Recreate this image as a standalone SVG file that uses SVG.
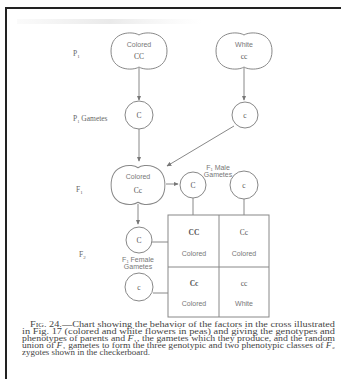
<svg xmlns="http://www.w3.org/2000/svg" width="341" height="379" viewBox="0 0 341 379">
<defs>
<marker id="ah" viewBox="0 0 8 8" refX="7" refY="4" markerWidth="5" markerHeight="5" orient="auto" markerUnits="strokeWidth">
<path d="M0,0.5 L8,4 L0,7.5 Z" fill="#777"/>
</marker>
<path id="blob" d="M0,-16 C-6,-20 -28,-20 -28,0 C-28,20 -6,20 0,16 C6,20 28,20 28,0 C28,-20 6,-20 0,-16 Z"/>
<linearGradient id="smudge" x1="0" y1="0" x2="1" y2="0">
<stop offset="0" stop-color="#e8e8e8" stop-opacity="0.2"/>
<stop offset="0.5" stop-color="#e4e4e4" stop-opacity="0.8"/>
<stop offset="1" stop-color="#eee" stop-opacity="0"/>
</linearGradient>
</defs>
<style>
.shape{fill:#fff;stroke:#888;stroke-width:1}
.conn{stroke:#888;stroke-width:1;fill:none}
.lbl{font-family:"Liberation Sans",Arial,sans-serif;font-size:7px;fill:#777;text-anchor:middle}
.gl{font-family:"Liberation Serif","Times New Roman",serif;font-size:7.5px;fill:#555;text-anchor:middle}
.side{font-family:"Liberation Serif","Times New Roman",serif;font-size:7.5px;fill:#666}
.cap{font-family:"Liberation Serif","DejaVu Serif","Times New Roman",serif;font-size:7.2px;fill:#444}
</style>
<rect x="0" y="0" width="341" height="379" fill="#fff"/>
<rect x="6" y="8" width="340" height="376" fill="none" stroke="#222" stroke-width="2"/>
<rect x="17" y="19" width="185" height="5" fill="url(#smudge)"/>

<g id="connectors">
<line class="conn" x1="139" y1="68" x2="139" y2="100" marker-end="url(#ah)"/>
<line class="conn" x1="244" y1="68" x2="244" y2="100" marker-end="url(#ah)"/>
<line class="conn" x1="139" y1="129" x2="139" y2="161" marker-end="url(#ah)"/>
<line class="conn" x1="234" y1="126" x2="167" y2="166" marker-end="url(#ah)"/>
<line class="conn" x1="166" y1="184" x2="178" y2="184" marker-end="url(#ah)"/>
<line class="conn" x1="138" y1="204" x2="138" y2="224" marker-end="url(#ah)"/>
<line class="conn" x1="193" y1="198" x2="193" y2="215"/>
<line class="conn" x1="244" y1="199" x2="244" y2="215"/>
<line class="conn" x1="152" y1="242" x2="168" y2="242"/>
<line class="conn" x1="153" y1="293" x2="168" y2="293"/>
</g>

<g id="labels">
<text class="side" x="73" y="56">P<tspan font-size="5" dy="1.5">1</tspan></text>
<text class="side" x="73" y="121" font-size="6.5">P<tspan font-size="4.5" dy="1.5">1</tspan><tspan dy="-1.5"> Gametes</tspan></text>
<text class="side" x="76" y="192">F<tspan font-size="5" dy="1.5">1</tspan></text>
<text class="side" x="79" y="257">F<tspan font-size="5" dy="1.5">2</tspan></text>
</g>

<g id="p1-colored">
<use href="#blob" class="shape" transform="translate(139,51)"/>
<text class="lbl" x="139" y="47">Colored</text>
<text class="gl" x="139" y="59">CC</text>
</g>
<g id="p1-white">
<use href="#blob" class="shape" transform="translate(244,51)"/>
<text class="lbl" x="244" y="47">White</text>
<text class="gl" x="244" y="59">cc</text>
</g>
<g id="p1-gamete-C">
<circle class="shape" cx="139" cy="115" r="14"/>
<text class="gl" x="139" y="118">C</text>
</g>
<g id="p1-gamete-c">
<circle class="shape" cx="245" cy="115" r="13"/>
<text class="gl" x="245" y="118">c</text>
</g>
<g id="f1-colored">
<use href="#blob" class="shape" transform="translate(138,185) scale(0.96,1.08)"/>
<text class="lbl" x="138" y="179">Colored</text>
<text class="gl" x="138" y="193">Cc</text>
</g>
<g id="f1-male-C">
<circle class="shape" cx="193" cy="185" r="13"/>
<text class="gl" x="193" y="188">C</text>
</g>
<g id="f1-male-c">
<circle class="shape" cx="244" cy="185" r="14"/>
<text class="gl" x="244" y="188">c</text>
</g>
<g id="f1-male-label">
<text class="lbl" x="218" y="170" font-size="5.5">F<tspan font-size="4" dy="1.2">1</tspan><tspan dy="-1.2"> Male</tspan></text>
<text class="lbl" x="218" y="177" font-size="5.5">Gametes</text>
</g>
<g id="f1-female-C">
<circle class="shape" cx="139" cy="240" r="13"/>
<text class="gl" x="139" y="243">C</text>
</g>
<g id="f1-female-label">
<text class="lbl" x="138" y="262" font-size="5.5">F<tspan font-size="4" dy="1.2">1</tspan><tspan dy="-1.2"> Female</tspan></text>
<text class="lbl" x="138" y="269" font-size="5">Gametes</text>
</g>
<g id="f1-female-c">
<circle class="shape" cx="139" cy="287" r="14"/>
<text class="gl" x="139" y="290">c</text>
</g>
<g id="checkerboard">
<rect class="shape" x="168" y="215" width="101" height="102"/>
<line class="conn" x1="219" y1="215" x2="219" y2="317"/>
<line class="conn" x1="168" y1="267" x2="269" y2="267"/>
<text class="gl" x="194" y="235" font-weight="bold">CC</text>
<text class="gl" x="244" y="235">Cc</text>
<text class="lbl" x="194" y="256">Colored</text>
<text class="lbl" x="244" y="256">Colored</text>
<text class="gl" x="194" y="286" font-weight="bold">Cc</text>
<text class="gl" x="244" y="286">cc</text>
<text class="lbl" x="194" y="306">Colored</text>
<text class="lbl" x="244" y="306">White</text>
</g>

<g id="caption">
<text class="cap" x="30" y="327" textLength="305" lengthAdjust="spacingAndGlyphs">F<tspan font-size="5.5">IG</tspan>. 24.—Chart showing the behavior of the factors in the cross illustrated</text>
<text class="cap" x="22" y="334" textLength="313" lengthAdjust="spacingAndGlyphs">in Fig. 17 (colored and white flowers in peas) and giving the genotypes and</text>
<text class="cap" x="22" y="341" textLength="313" lengthAdjust="spacingAndGlyphs">phenotypes of parents and <tspan font-style="italic">F</tspan>₁, the gametes which they produce, and the random</text>
<text class="cap" x="22" y="348" textLength="313" lengthAdjust="spacingAndGlyphs">union of <tspan font-style="italic">F</tspan>₁ gametes to form the three genotypic and two phenotypic classes of <tspan font-style="italic">F</tspan>₂</text>
<text class="cap" x="22" y="355" textLength="128" lengthAdjust="spacingAndGlyphs">zygotes shown in the checkerboard.</text>
</g>
</svg>
